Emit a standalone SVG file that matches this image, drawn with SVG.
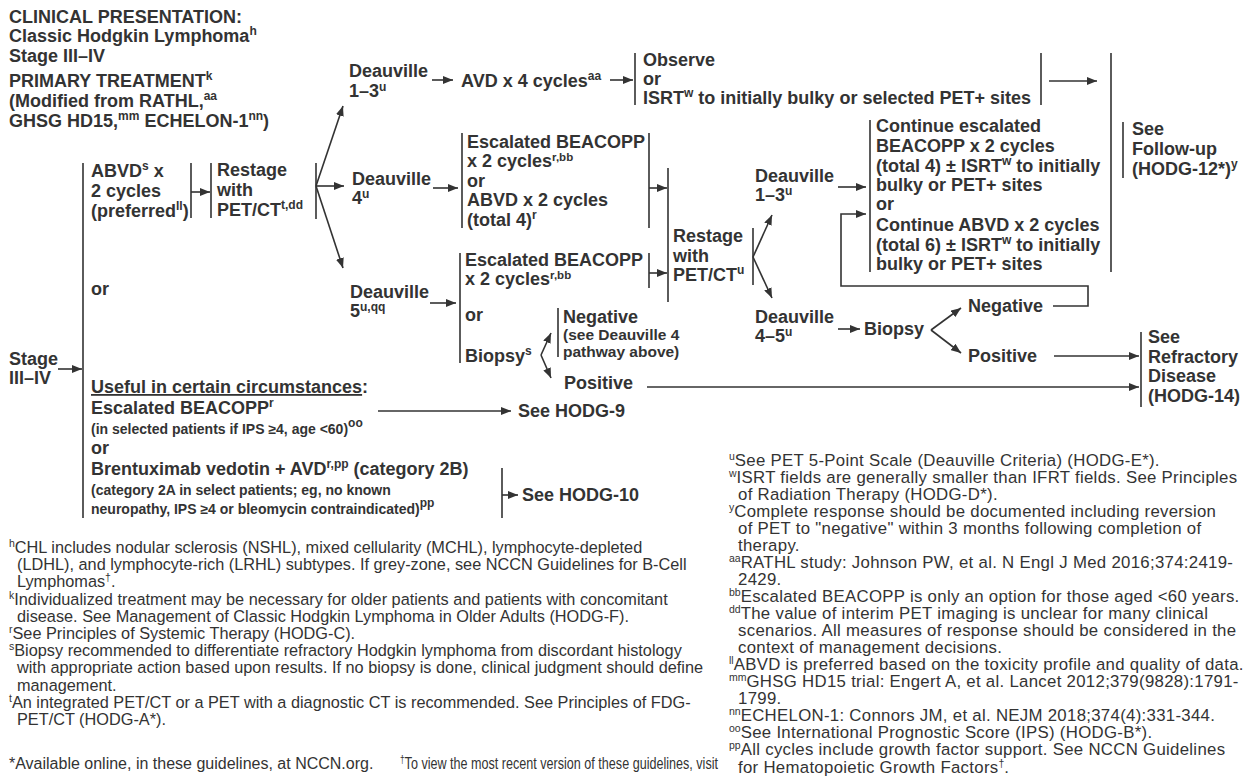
<svg xmlns="http://www.w3.org/2000/svg" width="1249" height="776" viewBox="0 0 1249 776">
<style>
text { font-family: "Liberation Sans", Arial, sans-serif; fill: #333; }
.b { font-weight: bold; font-size: 18px; }
.s { font-weight: bold; font-size: 15.5px; }
.t { font-weight: bold; font-size: 14px; }
.f { font-size: 16.3px; }
.g { font-size: 16.8px; letter-spacing: 0.3px; }
.h { font-size: 16px; }
.sup { font-size: 12px; }
.sup2 { font-size: 11.5px; }
.fs { font-size: 10.5px; letter-spacing: 0; }
.ln { stroke: #333; stroke-width: 1.6; fill: none; }
.ar { stroke: #333; stroke-width: 1.6; fill: none; marker-end: url(#ah); }
</style>
<defs>
<marker id="ah" viewBox="0 0 10 8" refX="10" refY="4" markerWidth="10" markerHeight="8" markerUnits="userSpaceOnUse" orient="auto"><path d="M0,0 L10,4 L0,8 z" fill="#333"/></marker>
</defs>
<rect width="1249" height="776" fill="#fff"/>

<g id="header">
<text class="b" x="9" y="23">CLINICAL PRESENTATION:</text>
<text class="b" x="9" y="42">Classic Hodgkin Lymphoma<tspan class="sup" dy="-7">h</tspan></text>
<text class="b" x="9" y="62">Stage III–IV</text>
<text class="b" x="9" y="87">PRIMARY TREATMENT<tspan class="sup" dy="-7">k</tspan></text>
<text class="b" x="9" y="107">(Modified from RATHL,<tspan class="sup" dy="-7">aa</tspan></text>
<text class="b" x="9" y="127">GHSG HD15,<tspan class="sup" dy="-7">mm</tspan><tspan dy="7"> ECHELON-1</tspan><tspan class="sup" dy="-7">nn</tspan><tspan dy="7">)</tspan></text>
</g>

<g id="stage">
<text class="b" x="9" y="365">Stage</text>
<text class="b" x="9" y="384">III–IV</text>
</g>

<g id="abvd">
<text class="b" x="91" y="177">ABVD<tspan class="sup" dy="-7">s</tspan><tspan dy="7"> x</tspan></text>
<text class="b" x="91" y="197">2 cycles</text>
<text class="b" x="91" y="217">(preferred<tspan class="sup" dy="-7">ll</tspan><tspan dy="7">)</tspan></text>
</g>

<g id="restage1">
<text class="b" x="217" y="176">Restage</text>
<text class="b" x="217" y="196">with</text>
<text class="b" x="217" y="216">PET/CT<tspan class="sup" dy="-7">t,dd</tspan></text>
</g>

<g id="or-main">
<text class="b" x="91" y="295">or</text>
</g>

<g id="deauville13">
<text class="b" x="349" y="77">Deauville</text>
<text class="b" x="349" y="97">1–3<tspan class="sup" dy="-6">u</tspan></text>
</g>

<g id="avd">
<text class="b" x="461" y="87">AVD x 4 cycles<tspan class="sup" dy="-7">aa</tspan></text>
</g>

<g id="observe">
<text class="b" x="643" y="66">Observe</text>
<text class="b" x="643" y="85">or</text>
<text class="b" x="643" y="104">ISRT<tspan class="sup" dy="-7">w</tspan><tspan dy="7"> to initially bulky or selected PET+ sites</tspan></text>
</g>

<g id="followup">
<text class="b" x="1132" y="135">See</text>
<text class="b" x="1132" y="155">Follow-up</text>
<text class="b" x="1132" y="175">(HODG-12*)<tspan class="sup" dy="-7">y</tspan></text>
</g>

<g id="deauville4">
<text class="b" x="352" y="185">Deauville</text>
<text class="b" x="352" y="204">4<tspan class="sup" dy="-6">u</tspan></text>
</g>

<g id="beacopp1">
<text class="b" x="467" y="148">Escalated BEACOPP</text>
<text class="b" x="467" y="167">x 2 cycles<tspan class="sup2" dy="-6">r,bb</tspan></text>
<text class="b" x="467" y="187">or</text>
<text class="b" x="467" y="206">ABVD x 2 cycles</text>
<text class="b" x="467" y="226">(total 4)<tspan class="sup" dy="-7">r</tspan></text>
</g>

<g id="deauville5">
<text class="b" x="350" y="298">Deauville</text>
<text class="b" x="350" y="317">5<tspan class="sup" dy="-6">u,qq</tspan></text>
</g>

<g id="beacopp2">
<text class="b" x="465" y="266">Escalated BEACOPP</text>
<text class="b" x="465" y="285">x 2 cycles<tspan class="sup2" dy="-6">r,bb</tspan></text>
<text class="b" x="465" y="321">or</text>
<text class="b" x="465" y="362">Biopsy<tspan class="sup" dy="-7">s</tspan></text>
</g>

<g id="negative1">
<text class="b" x="563" y="323">Negative</text>
<text class="s" x="563" y="340">(see Deauville 4</text>
<text class="s" x="563" y="357">pathway above)</text>
</g>

<g id="positive1">
<text class="b" x="564" y="389">Positive</text>
</g>

<g id="restage2">
<text class="b" x="673" y="242">Restage</text>
<text class="b" x="673" y="262">with</text>
<text class="b" x="673" y="281">PET/CT<tspan class="sup" dy="-7">u</tspan></text>
</g>

<g id="deauville13b">
<text class="b" x="755" y="182">Deauville</text>
<text class="b" x="755" y="201">1–3<tspan class="sup" dy="-6">u</tspan></text>
</g>

<g id="continue">
<text class="b" x="876" y="132">Continue escalated</text>
<text class="b" x="876" y="152">BEACOPP x 2 cycles</text>
<text class="b" x="876" y="172">(total 4) ± ISRT<tspan class="sup" dy="-7">w</tspan><tspan dy="7"> to initially</tspan></text>
<text class="b" x="876" y="191">bulky or PET+ sites</text>
<text class="b" x="876" y="210">or</text>
<text class="b" x="876" y="231">Continue ABVD x 2 cycles</text>
<text class="b" x="876" y="251">(total 6) ± ISRT<tspan class="sup" dy="-7">w</tspan><tspan dy="7"> to initially</tspan></text>
<text class="b" x="876" y="270">bulky or PET+ sites</text>
</g>

<g id="deauville45">
<text class="b" x="755" y="323">Deauville</text>
<text class="b" x="755" y="342">4–5<tspan class="sup" dy="-6">u</tspan></text>
</g>

<g id="biopsy2">
<text class="b" x="864" y="335">Biopsy</text>
</g>

<g id="negative2">
<text class="b" x="968" y="312">Negative</text>
</g>

<g id="positive2">
<text class="b" x="968" y="362">Positive</text>
</g>

<g id="refractory">
<text class="b" x="1148" y="343">See</text>
<text class="b" x="1148" y="363">Refractory</text>
<text class="b" x="1148" y="382">Disease</text>
<text class="b" x="1148" y="402">(HODG-14)</text>
</g>

<g id="useful">
<text class="b" x="91" y="393"><tspan text-decoration="underline">Useful in certain circumstances</tspan>:</text>
</g>

<g id="escalated">
<text class="b" x="91" y="414">Escalated BEACOPP<tspan class="sup" dy="-7">r</tspan></text>
<text class="t" x="91" y="434">(in selected patients if IPS ≥4, age &lt;60)<tspan class="sup" dy="-7">oo</tspan></text>
<text class="b" x="91" y="454">or</text>
</g>

<g id="hodg9">
<text class="b" x="518" y="417">See HODG-9</text>
</g>

<g id="brentuximab">
<text class="b" x="91" y="475">Brentuximab vedotin + AVD<tspan class="sup" dy="-7">r,pp</tspan><tspan dy="7"> (category 2B)</tspan></text>
<text class="t" x="91" y="495">(category 2A in select patients; eg, no known</text>
<text class="t" x="91" y="514">neuropathy, IPS ≥4 or bleomycin contraindicated)<tspan class="sup" dy="-7">pp</tspan></text>
</g>

<g id="hodg10">
<text class="b" x="522" y="501">See HODG-10</text>
</g>

<g id="connectors">
<path class="ar" d="M58,369 H82"/>
<path class="ln" d="M83,163 V518"/>
<path class="ln" d="M191,163 V218"/>
<path class="ar" d="M191,192 H210"/>
<path class="ln" d="M211,163 V218"/>
<path class="ln" d="M316,163 V219"/>
<path class="ar" d="M316,186 L343,106"/>
<path class="ar" d="M316,186 H344"/>
<path class="ar" d="M316,186 L343,268"/>
<path class="ar" d="M432,80 H453"/>
<path class="ar" d="M610,80 H633"/>
<path class="ln" d="M635,53 V105"/>
<path class="ln" d="M1041,53 V105"/>
<path class="ar" d="M1049,81 H1097"/>
<path class="ln" d="M1111,53 V272"/>
<path class="ln" d="M1123,122 V178"/>
<path class="ar" d="M433,188 H458"/>
<path class="ln" d="M462,133 V228"/>
<path class="ln" d="M649,133 V228"/>
<path class="ar" d="M649,188 H667"/>
<path class="ln" d="M668,168 V302"/>
<path class="ln" d="M460,253 V363"/>
<path class="ln" d="M649,253 V288"/>
<path class="ar" d="M649,273 H667"/>
<path class="ar" d="M430,303 H456"/>
<path class="ar" d="M541,355 L551,333"/>
<path class="ar" d="M541,355 L551,378"/>
<path class="ln" d="M558,308 V357"/>
<path class="ar" d="M647,387 H1139"/>
<path class="ln" d="M753,228 V285"/>
<path class="ar" d="M753,257 L772,215"/>
<path class="ar" d="M753,257 L772,298"/>
<path class="ar" d="M838,187 H866"/>
<path class="ln" d="M870,120 V272"/>
<path class="ar" d="M838,329 H860"/>
<path class="ar" d="M931,330 L961,308"/>
<path class="ar" d="M931,330 L961,353"/>
<path class="ar" d="M1053,306 H1088 V286 H841 V214 H866"/>
<path class="ar" d="M1054,356 H1139"/>
<path class="ln" d="M1141,332 V407"/>
<path class="ar" d="M378,411 H511"/>
<path class="ln" d="M502,468 V518"/>
<path class="ar" d="M502,495 H518"/>
</g>

<g id="footnotes-left">
<text class="f" x="9" y="553"><tspan class="fs" dy="-6">h</tspan><tspan dy="6">CHL includes nodular sclerosis (NSHL), mixed cellularity (MCHL), lymphocyte-depleted</tspan></text>
<text class="f" x="17" y="570.2">(LDHL), and lymphocyte-rich (LRHL) subtypes. If grey-zone, see NCCN Guidelines for B-Cell</text>
<text class="f" x="17" y="587.4">Lymphomas<tspan class="fs" dy="-6">†</tspan><tspan dy="6">.</tspan></text>
<text class="f" x="9" y="604.6"><tspan class="fs" dy="-6">k</tspan><tspan dy="6">Individualized treatment may be necessary for older patients and patients with concomitant</tspan></text>
<text class="f" x="17" y="621.8">disease. See Management of Classic Hodgkin Lymphoma in Older Adults (HODG-F).</text>
<text class="f" x="9" y="639"><tspan class="fs" dy="-6">r</tspan><tspan dy="6">See Principles of Systemic Therapy (HODG-C).</tspan></text>
<text class="f" x="9" y="656.2"><tspan class="fs" dy="-6">s</tspan><tspan dy="6">Biopsy recommended to differentiate refractory Hodgkin lymphoma from discordant histology</tspan></text>
<text class="f" x="17" y="673.4">with appropriate action based upon results. If no biopsy is done, clinical judgment should define</text>
<text class="f" x="17" y="690.6">management.</text>
<text class="f" x="9" y="707.8"><tspan class="fs" dy="-6">t</tspan><tspan dy="6">An integrated PET/CT or a PET with a diagnostic CT is recommended. See Principles of FDG-</tspan></text>
<text class="f" x="17" y="725">PET/CT (HODG-A*).</text>
<text class="h" x="9" y="769">*Available online, in these guidelines, at NCCN.org.</text>
<text class="h" x="400" y="769" textLength="318" lengthAdjust="spacingAndGlyphs"><tspan class="fs" dy="-6">†</tspan><tspan dy="6">To view the most recent version of these guidelines, visit</tspan></text>
</g>

<g id="footnotes-right">
<text class="g" x="729" y="466"><tspan class="fs" dy="-6">u</tspan><tspan dy="6">See PET 5-Point Scale (Deauville Criteria) (HODG-E*).</tspan></text>
<text class="g" x="729" y="483"><tspan class="fs" dy="-6">w</tspan><tspan dy="6">ISRT fields are generally smaller than IFRT fields. See Principles</tspan></text>
<text class="g" x="738" y="500">of Radiation Therapy (HODG-D*).</text>
<text class="g" x="729" y="517"><tspan class="fs" dy="-6">y</tspan><tspan dy="6">Complete response should be documented including reversion</tspan></text>
<text class="g" x="738" y="534">of PET to "negative" within 3 months following completion of</text>
<text class="g" x="738" y="551">therapy.</text>
<text class="g" x="729" y="568"><tspan class="fs" dy="-6">aa</tspan><tspan dy="6">RATHL study: Johnson PW, et al. N Engl J Med 2016;374:2419-</tspan></text>
<text class="g" x="738" y="585">2429.</text>
<text class="g" x="729" y="602"><tspan class="fs" dy="-6">bb</tspan><tspan dy="6">Escalated BEACOPP is only an option for those aged &lt;60 years.</tspan></text>
<text class="g" x="729" y="619"><tspan class="fs" dy="-6">dd</tspan><tspan dy="6">The value of interim PET imaging is unclear for many clinical</tspan></text>
<text class="g" x="738" y="636">scenarios. All measures of response should be considered in the</text>
<text class="g" x="738" y="653">context of management decisions.</text>
<text class="g" x="729" y="670"><tspan class="fs" dy="-6">ll</tspan><tspan dy="6">ABVD is preferred based on the toxicity profile and quality of data.</tspan></text>
<text class="g" x="729" y="687"><tspan class="fs" dy="-6">mm</tspan><tspan dy="6">GHSG HD15 trial: Engert A, et al. Lancet 2012;379(9828):1791-</tspan></text>
<text class="g" x="738" y="704">1799.</text>
<text class="g" x="729" y="721"><tspan class="fs" dy="-6">nn</tspan><tspan dy="6">ECHELON-1: Connors JM, et al. NEJM 2018;374(4):331-344.</tspan></text>
<text class="g" x="729" y="738"><tspan class="fs" dy="-6">oo</tspan><tspan dy="6">See International Prognostic Score (IPS) (HODG-B*).</tspan></text>
<text class="g" x="729" y="755"><tspan class="fs" dy="-6">pp</tspan><tspan dy="6">All cycles include growth factor support. See NCCN Guidelines</tspan></text>
<text class="g" x="738" y="772.5">for Hematopoietic Growth Factors<tspan class="fs" dy="-6">†</tspan><tspan dy="6">.</tspan></text>
</g>
</svg>
